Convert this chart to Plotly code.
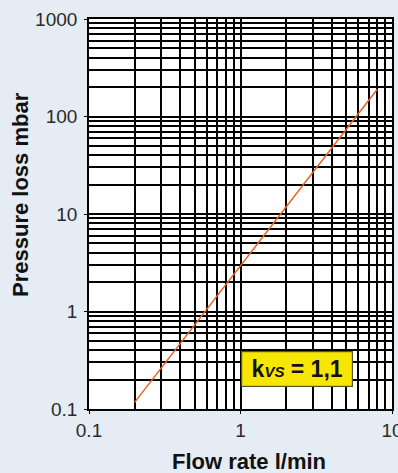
import plotly.graph_objects as go

flow = [0.2, 8.0]
pressure = [0.117, 190.0]

x_major = [0.1, 1, 10]
x_major_labels = ["0.1", "1", "10"]
y_major = [0.1, 1, 10, 100, 1000]
y_major_labels = ["0.1", "1", "10", "100", "1000"]

bg = "#e5ecf4"
font_family = "Liberation Sans, Arial, Helvetica, sans-serif"

fig = go.Figure()
fig.add_trace(go.Scatter(x=flow, y=pressure, mode="lines",
                         line=dict(color="#e8641e", width=1.5),
                         showlegend=False, hoverinfo="skip"))

axis_common = dict(
    type="log", automargin=False,
    showgrid=True, gridcolor="#000000", gridwidth=1.7,
    showline=True, linecolor="#000000", linewidth=1.7, mirror=True,
    ticks="outside", ticklen=3, tickcolor="#000000", tickwidth=1.2,
    tickfont=dict(family=font_family, size=19, color="#2a2a2a"),
    ticklabeloverflow="allow",
    minor=dict(dtick="D1", showgrid=True, gridcolor="#000000", gridwidth=1.7, ticks=""),
    zeroline=False,
)

fig.update_xaxes(**axis_common, range=[-1, 1], tickvals=x_major, ticktext=x_major_labels)
fig.update_yaxes(**axis_common, range=[-1, 3], tickvals=y_major, ticktext=y_major_labels,
                 ticklabelstandoff=3)

# Axis titles
fig.add_annotation(xref="paper", yref="paper", x=(249 - 89) / 303, y=-(461.5 - 409) / 390,
                   text="<b>Flow rate l/min</b>", showarrow=False,
                   xanchor="center", yanchor="middle",
                   font=dict(family=font_family, size=22, color="#111111"))
fig.add_annotation(xref="paper", yref="paper", x=-(89 - 21) / 303, y=(409 - 195) / 390,
                   text="<b>Pressure loss mbar</b>", showarrow=False, textangle=-90,
                   xanchor="center", yanchor="middle",
                   font=dict(family=font_family, size=22, color="#111111"))

fig.add_annotation(
    xref="paper", yref="paper", x=(297 - 89) / 303, y=(409 - 369) / 390,
    xanchor="center", yanchor="middle",
    text="<b>k<span style='font-size:15px'><i>VS</i></span> = 1,1</b>",
    showarrow=False, bgcolor="#f7e600", bordercolor="#555533", borderwidth=1.2,
    borderpad=2, width=106, height=30,
    font=dict(family=font_family, size=23, color="#111111"),
)

fig.update_layout(
    width=398, height=473,
    margin=dict(l=89, r=6, t=19, b=64),
    paper_bgcolor=bg, plot_bgcolor="#ffffff",
    font=dict(family=font_family),
)

fig.write_html("out.html", config={"displayModeBar": False},
               post_script="document.body.style.margin='0';document.body.style.background='%s';" % bg)
